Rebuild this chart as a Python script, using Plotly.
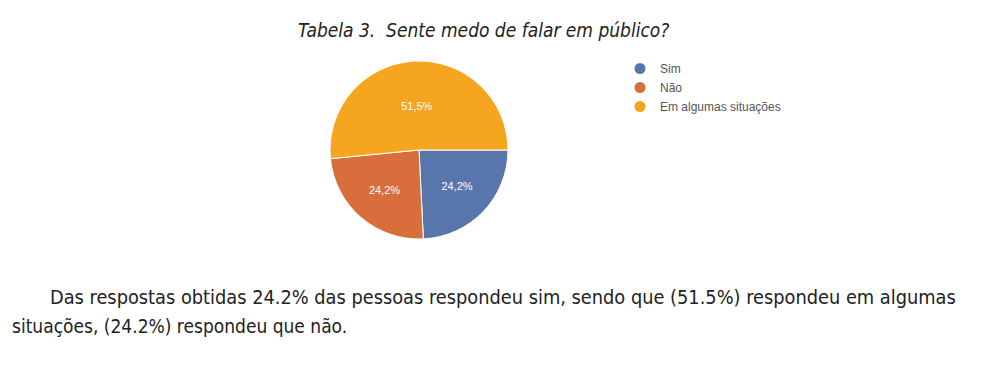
import plotly.graph_objects as go

categories = ["Sim", "Não", "Em algumas situações"]
values = [24.2, 24.2, 51.5]
colors = ["#5876AC", "#D86E3B", "#F6A51F"]

title_text = "Tabela 3.  Sente medo de falar em público?"
body_line1 = "Das respostas obtidas 24.2% das pessoas respondeu sim, sendo que (51.5%) respondeu em algumas"
body_line2 = "situações, (24.2%) respondeu que não."

W, H = 982, 366
# page body has an 8px margin; positions below are in figure coordinates
cx, cy, r = 411, 142, 89
FONT_TXT = "DejaVu Sans Condensed, Liberation Sans Narrow, Arial Narrow"

fig = go.Figure()
fig.add_trace(go.Pie(
    labels=categories, values=values,
    marker=dict(colors=colors, line=dict(color="white", width=1)),
    sort=False, direction="clockwise", rotation=90,
    texttemplate="%{value:.1f}%", textposition="inside",
    insidetextorientation="horizontal",
    textfont=dict(color="white", size=11, family="Arial, Liberation Sans"),
    showlegend=False, hoverinfo="label+percent",
    domain=dict(x=[(cx - r) / W, (cx + r) / W], y=[(H - cy - r) / H, (H - cy + r) / H]),
))
for c, col in zip(categories, colors):
    fig.add_trace(go.Scatter(x=[None], y=[None], mode="markers", name=c,
                             marker=dict(color=col, size=11, symbol="circle")))

fig.add_annotation(text="<i>" + title_text + "</i>", x=475 / W, y=1 - 22 / H,
                   xref="paper", yref="paper", showarrow=False,
                   xanchor="center", yanchor="middle",
                   font=dict(family=FONT_TXT, size=19, color="#222"))
fig.add_annotation(text=body_line1, x=40 / W, y=1 - 289 / H, xref="paper", yref="paper",
                   showarrow=False, xanchor="left", yanchor="middle",
                   font=dict(family=FONT_TXT, size=19.8, color="#222"))
fig.add_annotation(text=body_line2, x=2 / W, y=1 - 318 / H, xref="paper", yref="paper",
                   showarrow=False, xanchor="left", yanchor="middle",
                   font=dict(family=FONT_TXT, size=19, color="#222"))

fig.update_layout(
    width=W, height=H, margin=dict(l=0, r=0, t=0, b=0),
    paper_bgcolor="white", plot_bgcolor="white",
    separators=",.",
    xaxis=dict(visible=False), yaxis=dict(visible=False),
    legend=dict(x=612 / W, y=1 - 46 / H, xanchor="left", yanchor="top",
                font=dict(family="Arial, Liberation Sans", size=12, color="#555"),
                itemwidth=30, tracegroupgap=0, bgcolor="rgba(0,0,0,0)"),
)
fig.write_html("out.html")
